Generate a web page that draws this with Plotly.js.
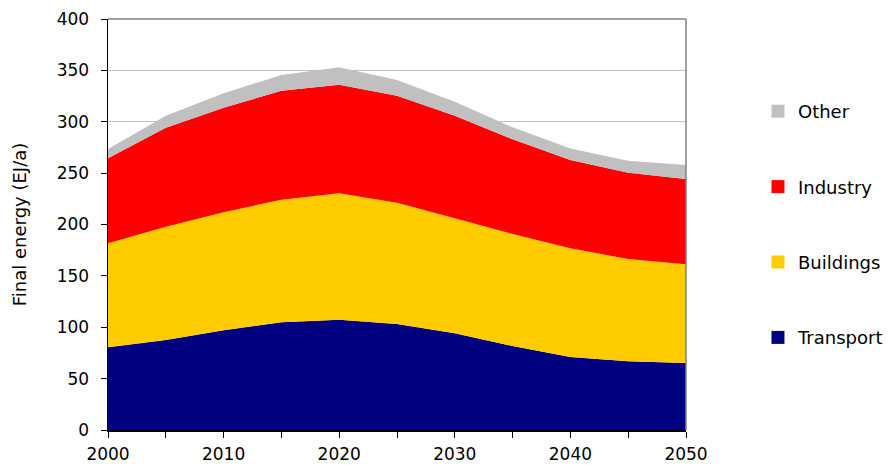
<!DOCTYPE html>
<html>
<head>
<meta charset="utf-8">
<script src="https://cdn.plot.ly/plotly-3.0.1.min.js"></script>
<style>html,body{margin:0;padding:0;background:#fff;}#chart{width:891px;height:465px;}</style>
</head>
<body>
<div id="chart"></div>
<script>
// Data (EJ/a, per sector, stacked)
const years = [2000, 2005, 2010, 2015, 2020, 2025, 2030, 2035, 2040, 2045, 2050];
const transport = [80.5, 87.6, 97.0, 104.8, 107.4, 103.2, 94.1, 81.8, 71.0, 66.8, 65.2];
const buildings = [101.2, 110.3, 114.9, 119.4, 122.9, 118.0, 111.9, 109.0, 105.8, 99.6, 96.0];
const industry = [82.7, 96.3, 101.8, 106.0, 105.7, 104.2, 99.9, 92.1, 86.0, 84.0, 83.1];
const other = [9.1, 11.7, 14.0, 15.3, 17.0, 15.2, 13.6, 11.7, 11.2, 11.6, 13.6];
const seriesNames = ['Transport', 'Buildings', 'Industry', 'Other'];
const seriesColors = ['#000080', '#FFCC00', '#FF0000', '#C0C0C0'];
const yTickVals = [0, 50, 100, 150, 200, 250, 300, 350, 400];
const xTickVals = [2000, 2010, 2020, 2030, 2040, 2050];

const seriesData = [transport, buildings, industry, other];
const traces = [];
seriesData.forEach((vals, i) => {
  traces.push({
    type: 'scatter', mode: 'none', x: years, y: vals,
    stackgroup: 'one', fillcolor: seriesColors[i],
    name: seriesNames[i], showlegend: false, hoverinfo: 'x+y+name'
  });
});
seriesData.forEach((vals, i) => {
  traces.push({
    type: 'scatter', mode: 'markers', x: [null], y: [null],
    name: seriesNames[i], legendgroup: 'g' + i,
    legendrank: 1000 - i,
    marker: {symbol: 'square', size: 13, color: seriesColors[i]},
    showlegend: true
  });
});

const fam = 'DejaVu Sans, Verdana, sans-serif';
const tickFont = {family: fam, size: 17, color: '#000'};
const layout = {
  width: 891, height: 465,
  margin: {l: 108, r: 205, t: 19, b: 35},
  paper_bgcolor: '#fff', plot_bgcolor: '#fff',
  font: {family: fam, size: 17, color: '#000'},
  showlegend: true,
  legend: {
    xref: 'container', yref: 'container',
    x: 0.8507, xanchor: 'left', y: 0.8, yanchor: 'top',
    maxheight: 450,
    traceorder: 'grouped', tracegroupgap: 49,
    font: {family: fam, size: 18, color: '#000'},
    itemwidth: 30, bgcolor: 'rgba(0,0,0,0)'
  },
  xaxis: {
    range: [2000, 2050], tickvals: xTickVals, ticktext: xTickVals.map(String),
    ticks: 'outside', ticklen: 6, tickcolor: '#000', tickwidth: 1,
    ticklabelstandoff: 2,
    minor: {dtick: 5, tick0: 2000, ticks: 'outside', ticklen: 6, tickcolor: '#000', showgrid: false},
    showline: true, linecolor: '#000', linewidth: 1.5,
    showgrid: false, zeroline: false, fixedrange: true,
    tickfont: tickFont
  },
  yaxis: {
    range: [0, 400], tickvals: yTickVals, ticktext: yTickVals.map(String),
    ticks: 'outside', ticklen: 6, tickcolor: '#000', tickwidth: 1,
    ticklabelstandoff: 8,
    showline: true, linecolor: '#000', linewidth: 1.5,
    showgrid: true, gridcolor: '#C0C0C0', gridwidth: 1,
    zeroline: false, fixedrange: true,
    title: {text: 'Final energy (EJ/a)', font: {family: fam, size: 18, color: '#000'}, standoff: 25},
    tickfont: tickFont
  },
  shapes: [
    {type: 'line', xref: 'paper', yref: 'paper', x0: 0, x1: 1, y0: 1, y1: 1,
     line: {color: '#808080', width: 1.5}, layer: 'above'},
    {type: 'line', xref: 'paper', yref: 'paper', x0: 1, x1: 1, y0: 0, y1: 1,
     line: {color: '#808080', width: 1.5}, layer: 'above'}
  ]
};

Plotly.newPlot('chart', traces, layout, {displayModeBar: false, staticPlot: true});
</script>
</body>
</html>
